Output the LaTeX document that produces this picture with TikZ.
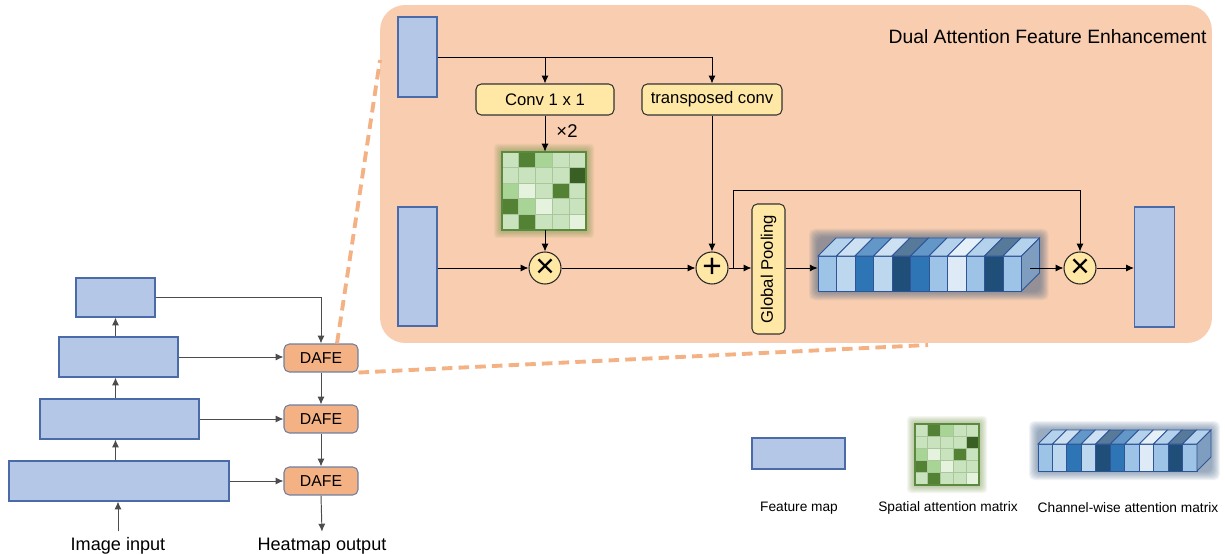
\documentclass[tikz,border=0pt]{standalone}
\usepackage{fontspec}
\setmainfont{Liberation Sans}
\usepackage{tikz}
\usetikzlibrary{
  arrows.meta,
  positioning,
  calc
}
\definecolor{PanelPeach}{HTML}{F8CDB0}
\definecolor{MapFill}{HTML}{B4C7E7}
\definecolor{MapBorder}{HTML}{4A6BA8}
\definecolor{OpYellow}{HTML}{FFE8A5}
\definecolor{DafeOrange}{HTML}{F4B183}
\definecolor{DafeBorder}{HTML}{6F7FA0}
\definecolor{gV}{HTML}{E4F2DE}
\definecolor{gL}{HTML}{C9E3BF}
\definecolor{gM}{HTML}{A8D496}
\definecolor{gD}{HTML}{548235}
\definecolor{gX}{HTML}{3A5F24}
\definecolor{GridGreen}{HTML}{A9C79A}
\definecolor{MatBorder}{HTML}{5B8A3F}
\definecolor{GlowGreen}{HTML}{6F8F45}
\definecolor{GlowBlue}{HTML}{3F5F85}
\definecolor{bA}{HTML}{9DC3E6}
\definecolor{bB}{HTML}{BDD7EE}
\definecolor{bC}{HTML}{2E75B6}
\definecolor{bD}{HTML}{1F4E79}
\definecolor{bE}{HTML}{DEEBF7}
\definecolor{CellBorder}{HTML}{2F5597}
\definecolor{SideBlue}{HTML}{7F9DBF}

\tikzset{
  fmap/.style={draw=MapBorder, fill=MapFill, line width=0.6pt, inner sep=0pt},
  opbox/.style={draw=black!80, fill=OpYellow, rounded corners=3pt, line width=0.6pt,
    inner sep=0pt, font=\fontsize{9.5}{11}\selectfont},
  opcirc/.style={circle, draw=black!85, fill=OpYellow, minimum size=0.64cm,
    inner sep=0pt, line width=0.6pt, font=\fontsize{19}{19}\selectfont},
  dafe/.style={draw=DafeBorder, fill=DafeOrange, rounded corners=3pt, line width=0.6pt,
    minimum width=1.48cm, minimum height=0.56cm, inner sep=0pt,
    font=\fontsize{9}{11}\selectfont},
  link/.style={-{Latex[length=4.5pt,width=4pt]}, line width=0.55pt},
  glink/.style={link, draw=black!70},
  zoomline/.style={draw=DafeOrange, line width=2.2pt, dash pattern=on 6pt off 3.5pt},
  caption/.style={font=\fontsize{10.3}{12}\selectfont},
  legendtxt/.style={font=\fontsize{7.8}{9}\selectfont}
}

% #1,#2 top-left corner, #3 cell width, #4 cell height
\newcommand{\spatialmatrix}[4]{
  \foreach \g in {1,...,8}
    \fill[GlowGreen, opacity=0.08, rounded corners=2pt]
      ({#1-\g},{#2-\g}) rectangle ({#1+5*#3+\g},{#2+5*#4+\g});
  \foreach \c [count=\i from 0] in {gL,gD,gM,gL,gL,gL,gL,gL,gL,gX,gM,gV,gL,gD,gL,gD,gM,gV,gL,gL,gL,gD,gL,gL,gV}{
    \pgfmathtruncatemacro{\mrow}{\i/5}
    \pgfmathtruncatemacro{\mcol}{mod(\i,5)}
    \fill[\c] ({#1+\mcol*#3},{#2+\mrow*#4}) rectangle ++(#3,#4);
  }
  \foreach \k in {1,...,4}{
    \draw[GridGreen, line width=0.4pt] ({#1+\k*#3},#2) -- ++(0,{5*#4});
    \draw[GridGreen, line width=0.4pt] (#1,{#2+\k*#4}) -- ++({5*#3},0);
  }
  \draw[MatBorder, line width=1.2pt] (#1,#2) rectangle ++({5*#3},{5*#4});
}

% #1,#2 top-left of front face, #3 cell width, #4 height, #5 depth
\newcommand{\channelvector}[5]{
  \foreach \g in {1,...,9}
    \fill[GlowBlue, opacity=0.08, rounded corners=3pt]
      ({#1-\g},{#2-#5-\g}) rectangle ({#1+11*#3+#5+\g},{#2+#4+\g});
  \foreach \c [count=\i from 0] in {bA,bB,bC,bB,bD,bC,bA,bE,bA,bD,bA}{
    \filldraw[fill=\c, draw=CellBorder, line width=0.5pt]
      ({#1+\i*#3},#2) rectangle ++(#3,#4);
    \filldraw[fill=\c!75!white, draw=CellBorder, line width=0.5pt]
      ({#1+\i*#3},#2) -- ++(#5,-#5) -- ++(#3,0) -- ++(-#5,#5) -- cycle;
  }
  \filldraw[fill=SideBlue, draw=CellBorder, line width=0.5pt]
    ({#1+11*#3},#2) -- ++(#5,-#5) -- ++(0,#4) -- ++(-#5,#5) -- cycle;
}

\begin{document}
\begin{tikzpicture}[x=0.02cm, y=-0.02cm]
  \useasboundingbox (0,0) rectangle (1225,554);

  % enhancement panel
  \node[fill=PanelPeach, rounded corners=0.5cm, minimum width=16.64cm, minimum height=6.76cm,
    inner sep=0pt] (panel) at (796,174) {};
  \node[anchor=east, font=\fontsize{11}{13}\selectfont, inner sep=0pt] (title) at (1207,37)
    {Dual Attention Feature Enhancement};

  \node[fmap, minimum width=0.78cm, minimum height=1.6cm] (fmA) at (417.5,57) {};
  \node[fmap, minimum width=0.78cm, minimum height=2.38cm] (fmB) at (417.5,266.5) {};
  \node[fmap, minimum width=0.8cm, minimum height=2.4cm] (fmC) at (1154.5,267) {};

  \node[opbox, minimum width=2.76cm, minimum height=0.62cm] (conv) at (545,99.5) {Conv 1 x 1};
  \node[opbox, minimum width=2.8cm, minimum height=0.62cm] (tconv) at (712,99.5) {transposed conv};
  \node[opbox, minimum width=0.66cm, minimum height=2.6cm] (gp) at (768.5,269)
    {\rotatebox{90}{Global Pooling}};

  \node[inner sep=0pt, minimum width=1.68cm, minimum height=1.56cm] (sam) at (544,191) {};
  \spatialmatrix{502}{152}{16.8}{15.6}
  \node[font=\fontsize{10.5}{12}\selectfont, inner sep=0pt] (times) at (567,131) {×2};

  \node[inner sep=0pt, minimum width=4.44cm, minimum height=1.06cm] (cam) at (929,264.5) {};
  \channelvector{818}{256}{18.5}{35}{18}

  \node[opcirc] (mul1) at (545,268) {×};
  \node[opcirc] (add) at (712,268) {+};
  \node[opcirc] (mul2) at (1080,268) {×};

  \draw[link] (fmA.east) -| (tconv.north);
  \draw[link] (fmA.east -| conv.north) -- (conv.north);
  \draw[link] (conv.south) -- (sam.north -| conv.south);
  \draw[link] (sam.south -| mul1) -- (mul1);
  \draw[link] (fmB.east |- mul1) -- (mul1);
  \draw[link] (mul1) -- (add);
  \draw[link] (tconv.south) -- (add);
  \draw[link] (add.east) -- (add.east -| gp.west);
  \coordinate (branch) at (733,268);
  \draw[link] (branch) -- ++(0,-78) -| (mul2.north);
  \draw[link] (gp.east |- add) -- (cam.west |- add);
  \draw[link] ([xshift=-0.2cm]cam.east |- add) -- (mul2);
  \draw[link] (mul2) -- (mul2 -| fmC.west);

  % backbone
  \node[fmap, minimum width=1.58cm, minimum height=0.78cm] (b1) at (115.5,297.5) {};
  \node[fmap, minimum width=2.38cm, minimum height=0.8cm] (b2) at (118.5,357) {};
  \node[fmap, minimum width=3.18cm, minimum height=0.8cm] (b3) at (119.5,419) {};
  \node[fmap, minimum width=4.4cm, minimum height=0.8cm] (b4) at (119,481) {};

  \node[dafe] (d1) at (321,358) {DAFE};
  \node[dafe] (d2) at (321,419) {DAFE};
  \node[dafe] (d3) at (321,481) {DAFE};

  \node[caption] (inlbl) at (118,546) {Image input};
  \node[caption] (outlbl) at (322,546) {Heatmap output};

  \draw[glink] (inlbl.north) -- (inlbl.north |- b4.south);
  \draw[glink] (b4.north -| b1) -- (b3.south -| b1);
  \draw[glink] (b3.north -| b1) -- (b2.south -| b1);
  \draw[glink] (b2.north -| b1) -- (b1.south);
  \draw[glink] (b1.east) -| (d1.north);
  \draw[glink] (b2.east) -- (b2.east -| d1.west);
  \draw[glink] (b3.east) -- (b3.east -| d2.west);
  \draw[glink] (b4.east) -- (b4.east -| d3.west);
  \draw[glink] (d1) -- (d2);
  \draw[glink] (d2) -- (d3);
  \draw[glink] (d3.south) -- (outlbl.north);

  \coordinate (zoomtop) at (380,60);
  \coordinate (zoombot) at (928,345);
  \draw[zoomline] ([xshift=0.32cm]d1.north) -- (zoomtop);
  \draw[zoomline] (d1.south east) -- (zoombot);

  % legend
  \node[fmap, minimum width=1.86cm, minimum height=0.62cm] (lfm) at (798.5,453.5) {};
  \node[inner sep=0pt, minimum width=1.28cm, minimum height=1.22cm] (lsam) at (947,454.5) {};
  \spatialmatrix{915}{424}{12.8}{12.2}
  \node[inner sep=0pt, minimum width=3.46cm, minimum height=0.82cm] (lcam) at (1124.5,450.5) {};
  \channelvector{1038}{444}{14.45}{27}{14}

  \node[legendtxt] (lfmtxt) at (799,508) {Feature map};
  \node[legendtxt] (lsamtxt) at (948,508) {Spatial attention matrix};
  \node[legendtxt] (lcamtxt) at (1128,508) {Channel-wise attention matrix};
\end{tikzpicture}
\end{document}
